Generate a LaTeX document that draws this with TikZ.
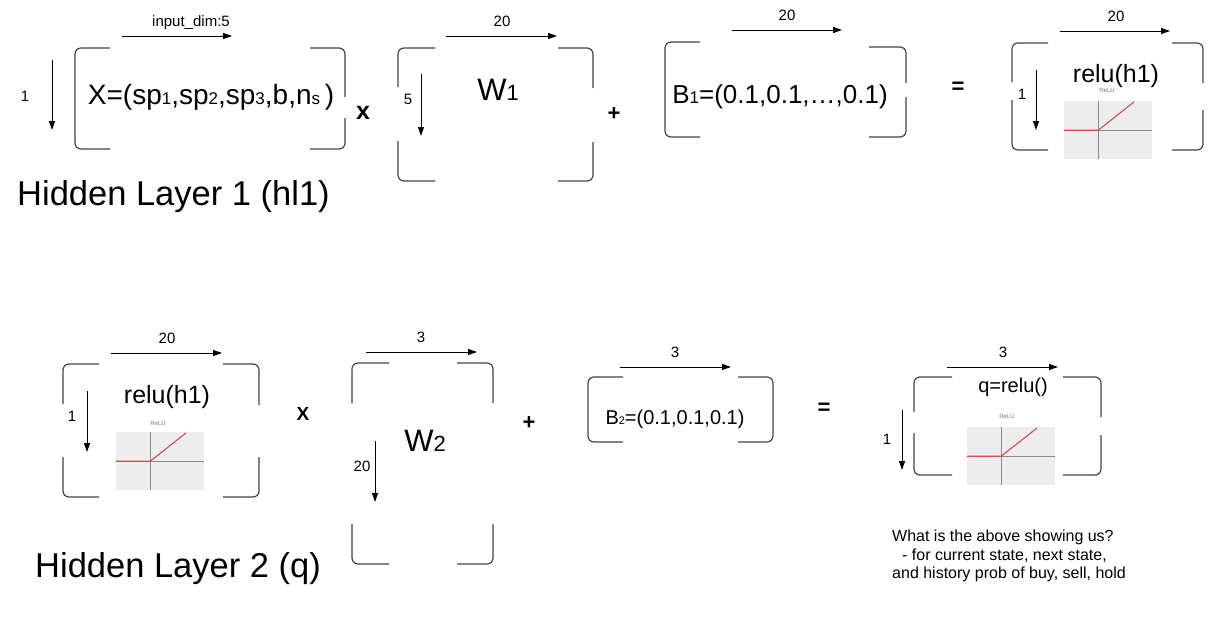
\documentclass[tikz,border=0pt]{standalone}
\usepackage{fontspec}
\setmainfont{Liberation Sans}
\usetikzlibrary{arrows.meta}
\definecolor{brkcol}{HTML}{444444}
\definecolor{graphbg}{HTML}{EDEDED}
\definecolor{axiscol}{HTML}{8A8A8A}
\definecolor{relured}{HTML}{C9504F}
\newcommand\fsz[1]{\fontsize{#1}{#1}\selectfont}
\newcommand\subx[2]{\raisebox{-0.5pt}{\fsz{#1}#2}}
\tikzset{
  brk/.style={draw=brkcol, line width=1.2pt, rounded corners=6pt},
  dim/.style={draw=black, line width=0.9pt, -{Triangle[length=9pt,width=6pt]}},
  lbl/.style={font=\fsz{15}, inner sep=0pt},
  bigtxt/.style={inner sep=0pt, anchor=base},
  optxt/.style={inner sep=0pt, font=\bfseries\fsz{22}},
  titletxt/.style={inner sep=0pt, anchor=base west, font=\fsz{34.5}},
  relulbl/.style={inner sep=0pt, font=\fsz{6}, text=black!55},
  gbox/.style={fill=graphbg, draw=none, inner sep=0pt, minimum width=88pt, minimum height=58pt, anchor=north west},
  axisline/.style={draw=axiscol, line width=0.8pt},
  redline/.style={draw=relured, line width=1.1pt},
}
\newcommand\relugraph[3]{%
  \node[gbox] (#1) at (#2,#3) {};
  \draw[axisline] ([xshift=34pt]#1.north west) -- ([xshift=34pt]#1.south west);
  \draw[axisline] (#1.west) -- (#1.east);
  \draw[redline] (#1.west) -- ([xshift=-10pt]#1.center) -- ([xshift=70pt,yshift=-1pt]#1.north west);
}
\begin{document}
\begin{tikzpicture}[x=1pt,y=-1pt]
\useasboundingbox (0,0) rectangle (1209,626);

% ---------------- Hidden layer 1 ----------------
% X
\draw[brk] (110,48) -- (75,48) -- (75,149) -- (110,149);
\draw[brk] (310,48) -- (345,48) -- (345,97);
\draw[brk] (345,118) -- (345,149) -- (310,149);
\coordinate (xa1) at (122,36); \coordinate (xa2) at (232,36);
\draw[dim] (xa1) -- (xa2);
\node[lbl] (xal) at (191,23) {input\_dim:5};
\coordinate (xd1) at (52,60); \coordinate (xd2) at (52,130);
\draw[dim] (xd1) -- (xd2);
\node[lbl] (xdl) at (25,96) {1};
\node[bigtxt, font=\fsz{28}] (xtext) at (211,104) {X=(sp\subx{17}{1},sp\subx{17}{2},sp\subx{17}{3},b,n\subx{17}{s}\,)};
\node[optxt, font=\bfseries\fsz{25}] (times1) at (363,113) {x};
\node[titletxt] (hl1) at (17,205) {Hidden Layer 1 (hl1)};

% W1
\draw[brk] (435,48) -- (398,48) -- (398,87);
\draw[brk] (398,141) -- (398,181) -- (435,181);
\draw[brk] (558,48) -- (593,48) -- (593,88);
\draw[brk] (593,142) -- (593,181) -- (558,181);
\coordinate (wa1) at (446,36); \coordinate (wa2) at (557,36);
\draw[dim] (wa1) -- (wa2);
\node[lbl] (wal) at (502,21) {20};
\coordinate (wd1) at (421,74); \coordinate (wd2) at (421,136);
\draw[dim] (wd1) -- (wd2);
\node[lbl] (wdl) at (408,99) {5};
\node[bigtxt, font=\fsz{31}] (w1) at (498,100) {W\subx{22}{1}};
\node[optxt] (plus1) at (614,114) {+};

% B1
\draw[brk] (700,42) -- (665,42) -- (665,137) -- (700,137);
\draw[brk] (869,47) -- (906,47) -- (906,83);
\draw[brk] (906,97) -- (906,137) -- (869,137);
\coordinate (ba1) at (732,30); \coordinate (ba2) at (842,30);
\draw[dim] (ba1) -- (ba2);
\node[lbl] (bal) at (787,15) {20};
\node[bigtxt, font=\fsz{26}] (b1) at (780,103) {B\subx{17}{1}=(0.1,0.1,\dots,0.1)};
\node[optxt] (eq1) at (958,88) {=};

% relu(h1)
\draw[brk] (1048,43) -- (1012,43) -- (1012,82);
\draw[brk] (1012,100) -- (1012,150) -- (1048,150);
\draw[brk] (1172,43) -- (1203,43) -- (1203,83);
\draw[brk] (1203,110) -- (1203,150) -- (1172,150);
\coordinate (ra1) at (1060,31); \coordinate (ra2) at (1170,31);
\draw[dim] (ra1) -- (ra2);
\node[lbl] (ral) at (1116,16) {20};
\coordinate (rd1) at (1036,70); \coordinate (rd2) at (1036,130);
\draw[dim] (rd1) -- (rd2);
\node[lbl] (rdl) at (1022,94) {1};
\node[bigtxt, font=\fsz{25}] (r1) at (1116,82) {relu(h1)};
\node[relulbl] (rl1) at (1107,90) {ReLU};
\relugraph{g1}{1064}{101}

% ---------------- Hidden layer 2 ----------------
% relu(h1)
\draw[brk] (99,364) -- (63,364) -- (63,404);
\draw[brk] (63,457) -- (63,497) -- (99,497);
\draw[brk] (223,364) -- (259,364) -- (259,405);
\draw[brk] (259,457) -- (259,497) -- (223,497);
\coordinate (sa1) at (111,353); \coordinate (sa2) at (222,353);
\draw[dim] (sa1) -- (sa2);
\node[lbl] (sal) at (167,338) {20};
\coordinate (sd1) at (87,391); \coordinate (sd2) at (87,452);
\draw[dim] (sd1) -- (sd2);
\node[lbl] (sdl) at (72,416) {1};
\node[bigtxt, font=\fsz{25}] (r2) at (167,403) {relu(h1)};
\node[relulbl] (rl2) at (158,423) {ReLU};
\relugraph{g2}{116}{432}
\node[optxt, font=\bfseries\fsz{19}] (times2) at (303,414) {X};

% W2
\draw[brk] (389,363) -- (352,363) -- (352,403);
\draw[brk] (352,524) -- (352,564) -- (389,564);
\draw[brk] (457,363) -- (493,363) -- (493,403);
\draw[brk] (493,524) -- (493,564) -- (457,564);
\coordinate (va1) at (366,352); \coordinate (va2) at (477,352);
\draw[dim] (va1) -- (va2);
\node[lbl] (val) at (421,337) {3};
\coordinate (vd1) at (375,441); \coordinate (vd2) at (375,502);
\draw[dim] (vd1) -- (vd2);
\node[lbl] (vdl) at (362,466) {20};
\node[bigtxt, font=\fsz{31}] (w2) at (425,451) {W\subx{22}{2}};
\node[optxt] (plus2) at (529,423) {+};

% B2
\draw[brk] (623,377) -- (588,377) -- (588,442) -- (623,442);
\draw[brk] (738,377) -- (773,377) -- (773,442) -- (738,442);
\coordinate (ca1) at (620,367); \coordinate (ca2) at (731,367);
\draw[dim] (ca1) -- (ca2);
\node[lbl] (cal) at (675,352) {3};
\node[bigtxt, font=\fsz{20}] (b2) at (675,424) {B\subx{11}{2}=(0.1,0.1,0.1)};
\node[optxt] (eq2) at (824,409) {=};

% q
\draw[brk] (952,377) -- (914,377) -- (914,412);
\draw[brk] (914,433) -- (914,475) -- (952,475);
\draw[brk] (1063,377) -- (1101,377) -- (1101,417);
\draw[brk] (1101,435) -- (1101,475) -- (1063,475);
\coordinate (qa1) at (947,367); \coordinate (qa2) at (1058,367);
\draw[dim] (qa1) -- (qa2);
\node[lbl] (qal) at (1003,352) {3};
\coordinate (qd1) at (902,410); \coordinate (qd2) at (902,470);
\draw[dim] (qd1) -- (qd2);
\node[lbl] (qdl) at (887,439) {1};
\node[bigtxt, font=\fsz{20}] (q) at (1013,392) {q=relu()};
\node[relulbl] (rl3) at (1007,416) {ReLU};
\relugraph{g3}{967}{427}

\node[inner sep=0pt, anchor=north west, align=left, font=\fontsize{16}{18.5}\selectfont] (note) at (892,530)
  {What is the above showing us?\\\hspace*{10pt}- for current state, next state,\\and history prob of buy, sell, hold};
\node[titletxt] (hl2) at (35,577) {Hidden Layer 2 (q)};
\end{tikzpicture}
\end{document}
